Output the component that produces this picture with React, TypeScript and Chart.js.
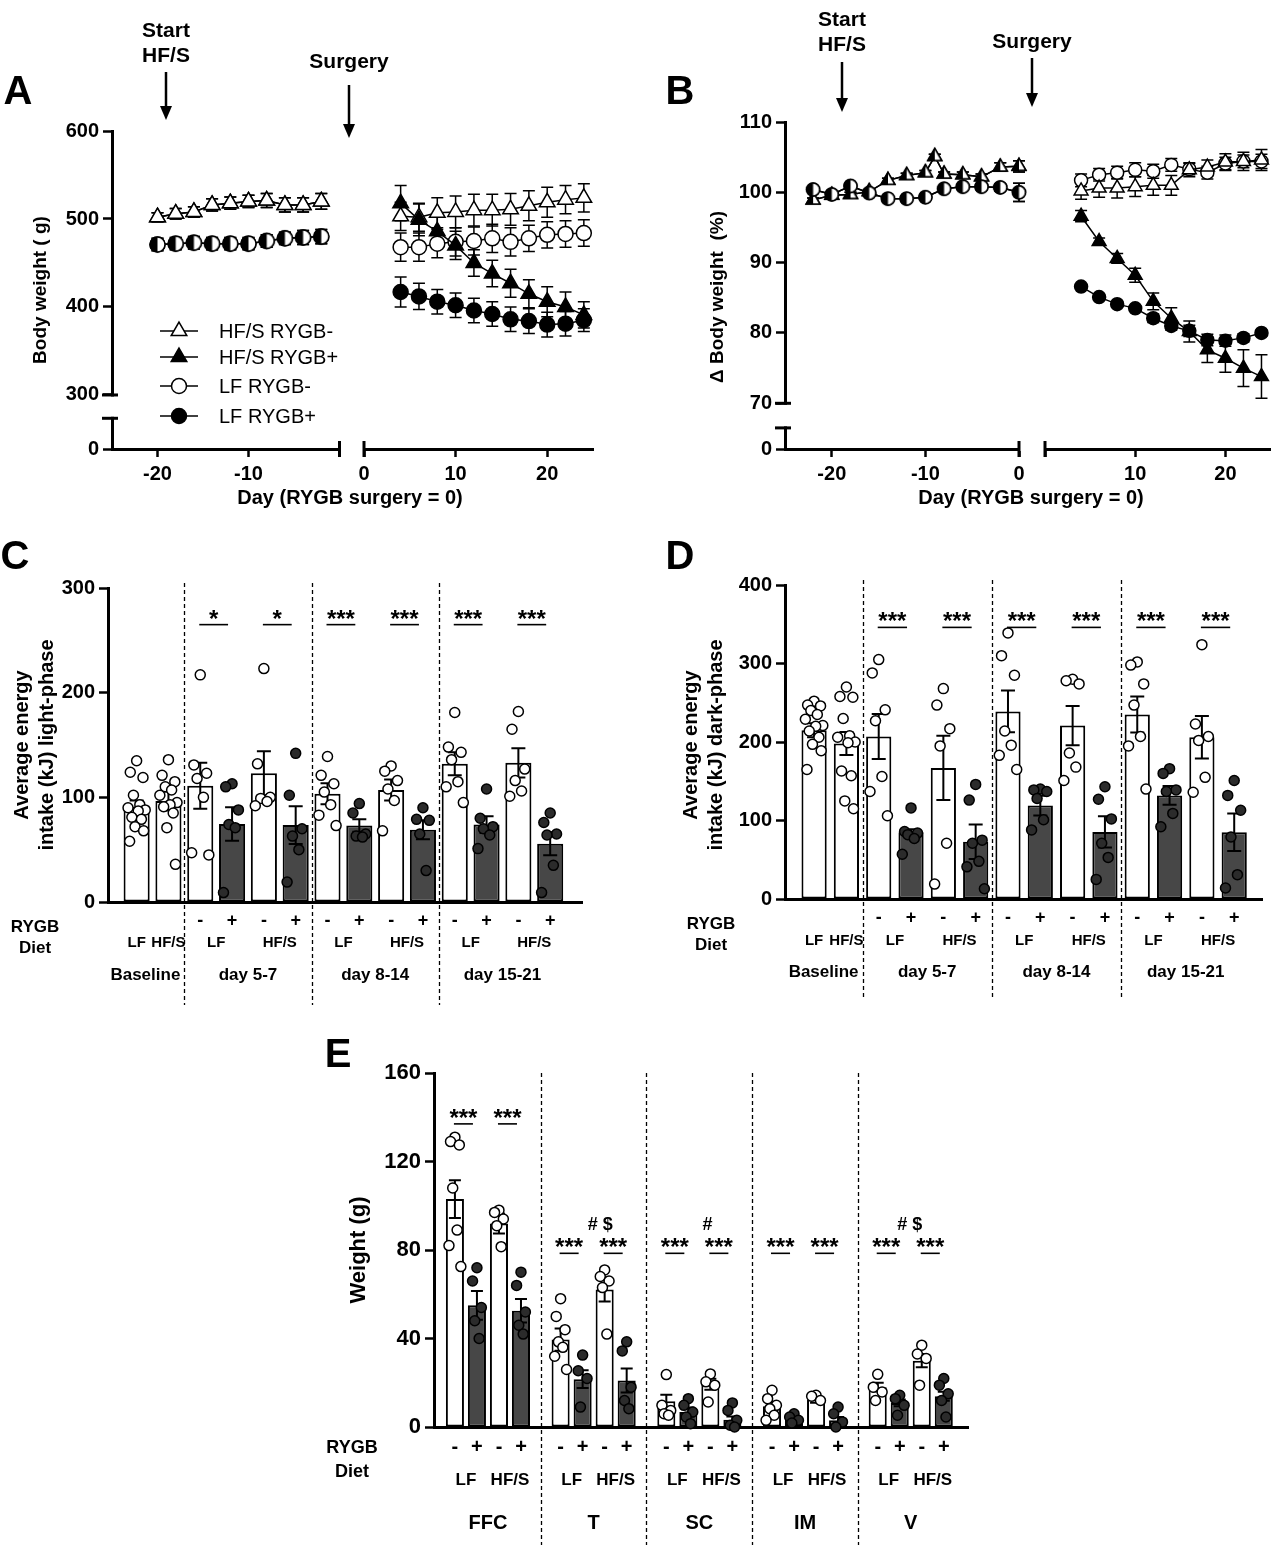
import React, { useEffect, useRef } from "react";
import { Chart, registerables } from "chart.js";

Chart.register(...registerables);

const FF = "'Liberation Sans', Arial, Helvetica, sans-serif";
const DARK_BAR = "#474747";
const DARK_DOT = "#2b2b2b";

/* ================= Panel A : body weight (g) ================= */
const aSeriesNames = ["HF/S RYGB-", "HF/S RYGB+", "LF RYGB-", "LF RYGB+"];
const aDaysPre = [-20, -18, -16, -14, -12, -10, -8, -6, -4, -2];
const aDaysPost = [4, 6, 8, 10, 12, 14, 16, 18, 20, 22, 24];
const aHfsMinusPre = [502, 506, 508, 516, 518, 520, 521, 516, 516, 520];
const aHfsMinusPreSem = [5, 6, 6, 7, 7, 7, 8, 8, 8, 9];
const aHfsPlusPre = [502, 506, 508, 516, 518, 520, 521, 516, 516, 520];
const aHfsPlusPreSem = [5, 6, 6, 7, 7, 7, 8, 8, 8, 9];
const aLfMinusPre = [471, 472, 473, 472, 472, 472, 475, 478, 479, 480];
const aLfMinusPreSem = [7, 7, 7, 7, 7, 7, 7, 7, 8, 8];
const aLfPlusPre = [471, 472, 473, 472, 472, 472, 475, 478, 479, 480];
const aLfPlusPreSem = [7, 7, 7, 7, 7, 7, 7, 7, 8, 8];
const aHfsMinusPost = [503, 502, 507, 508, 510, 510, 511, 515, 519, 522, 524];
const aHfsMinusPostSem = [16, 16, 17, 18, 18, 18, 18, 17, 17, 16, 16];
const aHfsPlusPost = [518, 499, 486, 470, 450, 438, 427, 415, 406, 400, 391];
const aHfsPlusPostSem = [20, 18, 17, 16, 15, 15, 16, 16, 17, 17, 15];
const aLfMinusPost = [468, 468, 472, 474, 475, 478, 474, 478, 482, 483, 484];
const aLfMinusPostSem = [16, 16, 16, 16, 16, 16, 16, 15, 15, 15, 15];
const aLfPlusPost = [417, 412, 406, 402, 396, 392, 386, 384, 380, 381, 385];
const aLfPlusPostSem = [17, 15, 14, 14, 14, 14, 14, 14, 14, 14, 13];
const aYTicks = [300, 400, 500, 600];
const aYAxisMin = 238.6;
const aYBreak = [273.5, 300];
const aXTicksPre = [-20, -10, 0];
const aXLabelsPre = ["-20", "-10", ""];
const aXTicksPost = [0, 10, 20];
const aXLabelsPost = ["0", "10", "20"];

/* ================= Panel B : delta body weight (%) ================= */
const bDaysPreLf = [-22, -20, -18, -16, -14, -12, -10, -8, -6, -4, -2, 0];
const bDaysPreHfs = [-22, -20, -18, -16, -14, -12, -10, -9, -8, -6, -4, -2, 0];
const bDaysPost = [4, 6, 8, 10, 12, 14, 16, 18, 20, 22, 24];
const bHfsPre = [98.9, 99.6, 99.7, 100.1, 101.7, 102.4, 102.8, 105.1, 102.6, 102.5, 102.2, 103.6, 103.7];
const bHfsPreSem = [0.3, 0.3, 0.3, 0.3, 0.3, 0.3, 0.3, 0.3, 0.3, 0.4, 0.4, 0.6, 0.8];
const bLfPre = [100.4, 99.7, 100.9, 99.9, 99.1, 99.1, 99.3, 100.5, 100.8, 100.8, 100.7, 100.0];
const bLfPreSem = [0.3, 0.3, 0.3, 0.3, 0.3, 0.3, 0.3, 0.3, 0.4, 0.4, 0.5, 1.3];
const bHfsMinusPost = [100.2, 100.6, 100.6, 100.8, 101.0, 101.0, 103.2, 103.6, 104.3, 104.4, 104.6];
const bHfsMinusPostSem = [1.2, 1.3, 1.4, 1.4, 1.4, 1.4, 1.0, 1.0, 1.2, 1.3, 1.5];
const bLfMinusPost = [101.7, 102.5, 102.8, 103.2, 103.0, 103.9, 103.3, 102.8, 104.1, 104.4, 104.4];
const bLfMinusPostSem = [0.9, 0.9, 0.9, 1.0, 1.0, 0.9, 0.8, 0.9, 0.9, 0.9, 1.0];
const bHfsPlusPost = [96.6, 93.0, 90.6, 88.2, 84.5, 82.1, 80.2, 77.6, 76.4, 75.0, 73.8];
const bHfsPlusPostSem = [0.8, 0.5, 0.7, 1.0, 1.2, 1.5, 1.5, 1.8, 2.0, 2.6, 3.1];
const bLfPlusPost = [86.6, 85.1, 84.1, 83.5, 82.1, 81.0, 80.3, 79.0, 78.9, 79.3, 80.0];
const bLfPlusPostSem = [0.3, 0.3, 0.3, 0.3, 0.6, 0.6, 0.8, 0.8, 0.8, 0.6, 0.4];
const bYTicks = [70, 80, 90, 100, 110];
const bYAxisMin = 63.5;
const bYBreak = [66.5, 70];
const bXTicksPre = [-20, -10, 0];
const bXLabelsPre = ["-20", "-10", "0"];
const bXTicksPost = [0, 10, 20];
const bXLabelsPost = ["", "10", "20"];

/* ================= Panel C : light-phase intake ================= */
const cGroups = ["Baseline", "day 5-7", "day 8-14", "day 15-21"];
const cGroupOf = [0, 0, 1, 1, 1, 1, 2, 2, 2, 2, 3, 3, 3, 3];
const cDiet = ["LF", "HF/S", "LF", "LF", "HF/S", "HF/S", "LF", "LF", "HF/S", "HF/S", "LF", "LF", "HF/S", "HF/S"];
const cRygb = ["", "", "-", "+", "-", "+", "-", "+", "-", "+", "-", "+", "-", "+"];
const cMeans = [91, 96.5, 111, 74.5, 123, 73.5, 103.5, 73, 107, 69, 132, 74, 133, 55.7];
const cSem = [6, 9, 22, 16, 21, 18, 10, 6, 10, 9, 11, 8, 14, 11];
const cPoints = [
  [135, 124, 119, 102, 93, 90, 88, 87, 81, 79, 72, 68, 58],
  [136, 121, 115, 110, 107, 102, 95, 93, 91, 85, 71, 36],
  [217, 131, 123, 118, 100, 47, 45],
  [113, 110, 88, 74, 71, 9],
  [223, 132, 100, 99, 96, 92],
  [142, 102, 70, 63, 50, 19],
  [139, 121, 113, 105, 93, 83, 73],
  [94, 85, 65, 63, 62],
  [130, 125, 116, 108, 97, 68],
  [90, 79, 78, 65, 30],
  [181, 148, 143, 136, 115, 110, 95],
  [108, 80, 72, 70, 64, 51],
  [182, 165, 127, 116, 106, 101],
  [85, 76, 65, 64, 35, 9],
];
const cYTicks = [0, 100, 200, 300];
const cSigText = ["*", "*", "***", "***", "***", "***"];
const cSigY = 265;

/* ================= Panel D : dark-phase intake ================= */
const dGroups = ["Baseline", "day 5-7", "day 8-14", "day 15-21"];
const dGroupOf = [0, 0, 1, 1, 1, 1, 2, 2, 2, 2, 3, 3, 3, 3];
const dDiet = ["LF", "HF/S", "LF", "LF", "HF/S", "HF/S", "LF", "LF", "HF/S", "HF/S", "LF", "LF", "HF/S", "HF/S"];
const dRygb = ["", "", "-", "+", "-", "+", "-", "+", "-", "+", "-", "+", "-", "+"];
const dMeans = [215, 198, 207, 85, 167, 73, 239, 119, 221, 85.5, 235, 132, 206, 85];
const dSem = [9, 14.7, 28.6, 4, 41, 22, 26.7, 12.6, 25, 20, 23, 12, 27, 24];
const dPoints = [
  [252, 247, 246, 240, 235, 229, 221, 220, 214, 206, 197, 189, 165],
  [270, 258, 257, 230, 208, 206, 200, 199, 163, 157, 125, 115],
  [305, 288, 241, 227, 156, 137, 106],
  [116, 86, 84, 82, 77, 57],
  [268, 247, 217, 195, 71, 19],
  [146, 126, 75, 71, 48, 41, 13],
  [339, 310, 285, 214, 196, 183, 165],
  [140, 139, 137, 128, 101, 88],
  [280, 278, 274, 186, 168, 151],
  [143, 127, 102, 71, 53, 25],
  [302, 298, 274, 247, 207, 195, 140],
  [166, 160, 139, 137, 109, 92],
  [324, 223, 207, 202, 155, 136],
  [151, 132, 113, 79, 31, 14],
];
const dYTicks = [0, 100, 200, 300, 400];
const dSigText = ["***", "***", "***", "***", "***", "***"];
const dSigY = 346;

/* ================= Panel E : tissue weights ================= */
const eGroups = ["FFC", "T", "SC", "IM", "V"];
const eGroupOf = [0, 0, 0, 0, 1, 1, 1, 1, 2, 2, 2, 2, 3, 3, 3, 3, 4, 4, 4, 4];
const eDiet = ["LF", "LF", "HF/S", "HF/S", "LF", "LF", "HF/S", "HF/S", "LF", "LF", "HF/S", "HF/S", "LF", "LF", "HF/S", "HF/S", "LF", "LF", "HF/S", "HF/S"];
const eRygb = ["-", "+", "-", "+", "-", "+", "-", "+", "-", "+", "-", "+", "-", "+", "-", "+", "-", "+", "-", "+"];
const eMeans = [103, 55, 92, 52.5, 39.5, 21.6, 62.2, 21, 11.6, 6.8, 19.3, 3.3, 9.4, 3.3, 12.5, 3, 18, 10.9, 30, 13.9];
const eSem = [8.5, 6.5, 4.5, 5.3, 5, 4, 5.5, 5.4, 3, 2, 2.5, 1.5, 2, 0.8, 1.5, 1.5, 2, 1.5, 3, 2];
const ePoints = [
  [131, 129, 127.5, 108, 89, 82, 72.5],
  [72, 66, 54, 48, 40],
  [98, 97, 94, 91, 81.5],
  [70, 64, 52, 46, 42],
  [58, 50, 44, 38.5, 36, 32, 26],
  [32.5, 25.4, 21.9, 9],
  [71, 68, 66, 63, 42],
  [38.5, 34.4, 18, 12, 8.3],
  [23.7, 9.8, 7.5, 6, 5.3],
  [12.8, 9.8, 6.8, 4.5, 1.5],
  [24, 20.4, 18.9, 11.3],
  [10.9, 7.5, 3, 0.8, 0],
  [16.6, 12.8, 9.8, 8.3, 5.3, 3],
  [6, 4.5, 3, 1.8],
  [14.3, 13.9, 12],
  [9, 6, 2.3, 0],
  [23.8, 18, 15.8, 12],
  [14.3, 12.8, 9.8, 5.3],
  [37, 33, 31, 18.9],
  [21.9, 18.9, 15, 12, 4.5],
];
const eYTicks = [0, 40, 80, 120, 160];
const eSigY = [137, 78.5, 78.5, 78.5, 78.5];
const eMarkGroups = [1, 2, 4];
const eMarkText = ["# $", "#", "# $"];
const eMarkAt = [1.8, 1.87, 1.45];
const eMarkY = 91.5;

const sideLabels = ["RYGB", "Diet"];

/* ================= layout (positions / styles only) ================= */
type Box = { left: number; top: number; width: number; height: number };
type Area = { l: number; t: number; r: number; b: number };

const A_PRE = { box: { left: 40, top: 105, width: 310, height: 390 }, area: { l: 112, t: 131, r: 340, b: 449 } };
const A_POST = { box: { left: 350, top: 105, width: 262, height: 390 }, area: { l: 364, t: 131, r: 593, b: 449 } };
const B_PRE = { box: { left: 728, top: 100, width: 302, height: 395 }, area: { l: 785, t: 122, r: 1019, b: 449 } };
const B_POST = { box: { left: 1030, top: 100, width: 250, height: 395 }, area: { l: 1045, t: 122, r: 1275, b: 449 } };
const C_L = { box: { left: 0, top: 565, width: 600, height: 445 }, area: { l: 108, t: 588, r: 582, b: 902 } };
const D_L = { box: { left: 660, top: 562, width: 620, height: 448 }, area: { l: 785, t: 585, r: 1262, b: 899 } };
const E_L = { box: { left: 320, top: 1050, width: 680, height: 499 }, area: { l: 434, t: 1073, r: 968, b: 1427 } };
const E_GROUP_STEP = 4.8;
const JITTER = [0, -0.2, 0.2, -0.1, 0.1, -0.27, 0.27, 0.05, -0.15, 0.15, -0.05, 0.22, -0.22];

function layoutFor(box: Box, area: Area) {
  return {
    yWidth: area.l - box.left,
    xHeight: box.top + box.height - area.b,
    padding: {
      top: area.t - box.top,
      right: box.left + box.width - area.r,
      left: 0,
      bottom: 0,
    },
  };
}

function markerPath(ctx: CanvasRenderingContext2D, shape: string, x: number, y: number, r: number) {
  ctx.beginPath();
  if (shape === "circle") {
    ctx.arc(x, y, r, 0, Math.PI * 2);
  } else {
    let rad = 0;
    ctx.moveTo(x + Math.sin(rad) * r, y - Math.cos(rad) * r);
    rad += (2 * Math.PI) / 3;
    ctx.lineTo(x + Math.sin(rad) * r, y - Math.cos(rad) * r);
    rad += (2 * Math.PI) / 3;
    ctx.lineTo(x + Math.sin(rad) * r, y - Math.cos(rad) * r);
  }
  ctx.closePath();
}

function halfOverlay(shape: string, r: number): HTMLCanvasElement {
  const s = Math.ceil(2 * r + 6);
  const c = document.createElement("canvas");
  c.width = s;
  c.height = s;
  const ctx = c.getContext("2d") as CanvasRenderingContext2D;
  const cx = s / 2;
  const cy = s / 2;
  ctx.save();
  markerPath(ctx, shape, cx, cy, r);
  ctx.clip();
  ctx.fillStyle = "#fff";
  ctx.fillRect(cx, 0, s, s);
  ctx.restore();
  markerPath(ctx, shape, cx, cy, r);
  ctx.lineWidth = 1.5;
  ctx.strokeStyle = "#000";
  ctx.stroke();
  return c;
}

const tickFont = (size: number) => ({ family: FF, size, weight: "bold" as const });
const axisBorder = { display: true, color: "#000", width: 3 };

/* ------------ plugins ------------ */
const lineErrorPlugin = (capHalf: number) => ({
  id: "lineErrors",
  beforeDatasetsDraw(chart: any) {
    const ctx = chart.ctx;
    const ys = chart.scales.y;
    ctx.save();
    ctx.strokeStyle = "#000";
    ctx.lineWidth = 1.5;
    chart.data.datasets.forEach((ds: any, di: number) => {
      if (!ds.errors) return;
      const meta = chart.getDatasetMeta(di);
      meta.data.forEach((pt: any, i: number) => {
        const v = ds.data[i].y;
        const e = ds.errors[i];
        if (!e) return;
        const y1 = ys.getPixelForValue(v + e);
        const y2 = ys.getPixelForValue(v - e);
        ctx.beginPath();
        ctx.moveTo(pt.x, y1);
        ctx.lineTo(pt.x, y2);
        ctx.moveTo(pt.x - capHalf, y1);
        ctx.lineTo(pt.x + capHalf, y1);
        ctx.moveTo(pt.x - capHalf, y2);
        ctx.lineTo(pt.x + capHalf, y2);
        ctx.stroke();
      });
    });
    ctx.restore();
  },
});

const brokenAxisPlugin = (yBreak: number[] | null, caps: number[]) => ({
  id: "brokenAxis",
  afterDraw(chart: any) {
    const ctx = chart.ctx;
    const ca = chart.chartArea;
    ctx.save();
    ctx.strokeStyle = "#000";
    ctx.lineWidth = 3;
    if (yBreak) {
      const ys = chart.scales.y;
      const pTop = ys.getPixelForValue(yBreak[1]);
      const pBot = ys.getPixelForValue(yBreak[0]);
      ctx.fillStyle = "#fff";
      ctx.fillRect(ca.left - 4, pTop + 1.5, 8, pBot - pTop - 3);
      [pTop, pBot].forEach((p) => {
        ctx.beginPath();
        ctx.moveTo(ca.left - 10, p);
        ctx.lineTo(ca.left + 6, p);
        ctx.stroke();
      });
    }
    caps.forEach((v) => {
      const px = chart.scales.x.getPixelForValue(v);
      ctx.beginPath();
      ctx.moveTo(px, ca.bottom - 8);
      ctx.lineTo(px, ca.bottom + 8);
      ctx.stroke();
    });
    ctx.restore();
  },
});

const legendPlugin = (lg: any) => ({
  id: "customLegend",
  afterDraw(chart: any) {
    const ctx = chart.ctx;
    ctx.save();
    lg.rows.forEach((row: any) => {
      ctx.strokeStyle = "#000";
      ctx.lineWidth = 1.5;
      ctx.beginPath();
      ctx.moveTo(lg.x1, row.y);
      ctx.lineTo(lg.x2, row.y);
      ctx.stroke();
      markerPath(ctx, row.shape, (lg.x1 + lg.x2) / 2, row.y, row.r);
      ctx.fillStyle = row.filled ? "#000" : "#fff";
      ctx.fill();
      ctx.stroke();
      ctx.fillStyle = "#000";
      ctx.font = `20px ${FF}`;
      ctx.textAlign = "left";
      ctx.textBaseline = "middle";
      ctx.fillText(row.name, lg.tx, row.y + 1);
    });
    ctx.restore();
  },
});

type LSeries = { xs: number[]; ys: number[]; err: number[]; shape: string; fill: string; r: number; order: number };

function segmentConfig(p: any) {
  const lay = layoutFor(p.box, p.area);
  const datasets = p.series.map((s: LSeries) => ({
    type: "line",
    data: s.xs.map((x, i) => ({ x, y: s.ys[i] })),
    errors: s.err,
    borderColor: "#000",
    borderWidth: 1.5,
    pointStyle: s.fill === "half" ? halfOverlay(s.shape, s.r) : s.shape,
    pointRadius: s.r,
    pointBackgroundColor: s.fill === "filled" ? "#000" : "#fff",
    pointBorderColor: "#000",
    pointBorderWidth: 1.5,
    fill: false,
    tension: 0,
    order: s.order,
    clip: false,
  }));
  const plugins: any[] = [lineErrorPlugin(p.capHalf), brokenAxisPlugin(p.showY ? p.yBreak : null, p.caps)];
  if (p.legend) plugins.push(legendPlugin(p.legend));
  return {
    type: "line",
    data: { datasets },
    plugins,
    options: {
      animation: false,
      responsive: false,
      events: [],
      layout: { padding: lay.padding },
      plugins: { legend: { display: false }, tooltip: { enabled: false } },
      scales: {
        x: {
          type: "linear",
          min: p.xMin,
          max: p.xMax,
          offset: false,
          afterBuildTicks: (s: any) => {
            s.ticks = p.xTicks.map((v: number) => ({ value: v }));
          },
          afterFit: (s: any) => {
            s.height = lay.xHeight;
          },
          ticks: {
            color: "#000",
            font: tickFont(20),
            padding: 5,
            maxRotation: 0,
            autoSkip: false,
            callback: (v: number) => {
              const k = p.xTicks.indexOf(v);
              return k >= 0 ? p.xLabels[k] : "";
            },
          },
          grid: { display: true, drawOnChartArea: false, drawTicks: true, tickLength: 8, tickColor: "#000", tickWidth: 2.5, color: "#000" },
          border: axisBorder,
        },
        y: {
          type: "linear",
          display: p.showY,
          min: p.yMin,
          max: p.yMax,
          afterBuildTicks: (s: any) => {
            s.ticks = [p.yMin, ...p.yTicks].map((v: number) => ({ value: v }));
          },
          afterFit: (s: any) => {
            s.width = lay.yWidth;
          },
          ticks: {
            color: "#000",
            font: tickFont(20),
            padding: 4,
            autoSkip: false,
            callback: (v: number) => (v === p.yMin ? p.yMinLabel : String(v)),
          },
          grid: { display: true, drawOnChartArea: false, drawTicks: true, tickLength: 9, tickColor: "#000", tickWidth: 2.5, color: "#000" },
          border: axisBorder,
        },
      },
    },
  };
}

/* ------- bar chart plugins ------- */
const barErrorPlugin = (capHalf: number) => ({
  id: "barErrors",
  afterDatasetDraw(chart: any, args: any) {
    const ds = chart.data.datasets[args.index];
    if (!ds.errors) return;
    const ctx = chart.ctx;
    const ys = chart.scales.y;
    ctx.save();
    ctx.strokeStyle = "#000";
    ctx.lineWidth = 2;
    args.meta.data.forEach((bar: any, i: number) => {
      const v = ds.data[i].y;
      const e = ds.errors[i];
      const y1 = ys.getPixelForValue(v + e);
      const y2 = ys.getPixelForValue(Math.max(0, v - e));
      ctx.beginPath();
      ctx.moveTo(bar.x, y1);
      ctx.lineTo(bar.x, y2);
      ctx.moveTo(bar.x - capHalf, y1);
      ctx.lineTo(bar.x + capHalf, y1);
      ctx.moveTo(bar.x - capHalf, y2);
      ctx.lineTo(bar.x + capHalf, y2);
      ctx.stroke();
    });
    ctx.restore();
  },
});

const dividerPlugin = (p: any) => ({
  id: "dividers",
  beforeDatasetsDraw(chart: any) {
    const ctx = chart.ctx;
    const xs = chart.scales.x;
    ctx.save();
    ctx.strokeStyle = "#000";
    ctx.lineWidth = 1.3;
    ctx.setLineDash([4, 3]);
    p.dividers.forEach((v: number) => {
      const px = Math.round(xs.getPixelForValue(v)) + 0.5;
      ctx.beginPath();
      ctx.moveTo(px, p.divTop - p.box.top);
      ctx.lineTo(px, p.divBottom - p.box.top);
      ctx.stroke();
    });
    ctx.restore();
  },
});

const sigPlugin = (p: any) => ({
  id: "significance",
  afterDraw(chart: any) {
    const ctx = chart.ctx;
    const xs = chart.scales.x;
    const ys = chart.scales.y;
    ctx.save();
    ctx.strokeStyle = "#000";
    ctx.fillStyle = "#000";
    ctx.lineWidth = 1.6;
    ctx.textAlign = "center";
    p.sigs.forEach((s: any) => {
      const x1 = xs.getPixelForValue(s.x1) - 1;
      const x2 = xs.getPixelForValue(s.x2) - 4;
      const y = ys.getPixelForValue(s.y);
      ctx.beginPath();
      ctx.moveTo(x1, y);
      ctx.lineTo(x2, y);
      ctx.stroke();
      ctx.font = `bold 24px ${FF}`;
      ctx.textBaseline = "alphabetic";
      ctx.fillText(s.text, (x1 + x2) / 2, y + 2);
    });
    p.marks.forEach((m: any) => {
      ctx.font = `bold 18px ${FF}`;
      ctx.textBaseline = "middle";
      ctx.fillText(m.text, xs.getPixelForValue(m.x), ys.getPixelForValue(m.y));
    });
    ctx.restore();
  },
});

const bottomLabelsPlugin = (p: any) => ({
  id: "bottomLabels",
  afterDraw(chart: any) {
    const ctx = chart.ctx;
    const xs = chart.scales.x;
    const ca = chart.chartArea;
    const oy = p.box.top;
    const ox = p.box.left;
    const R = p.rows;
    ctx.save();
    ctx.fillStyle = "#000";
    ctx.textAlign = "center";
    ctx.textBaseline = "middle";
    ctx.font = `bold ${R.signSize}px ${FF}`;
    p.pos.forEach((v: number, i: number) => {
      if (p.rygb[i]) ctx.fillText(p.rygb[i], xs.getPixelForValue(v), R.sign - oy);
    });
    ctx.font = `bold ${R.dietSize}px ${FF}`;
    let start = 0;
    for (let i = 1; i <= p.pos.length; i++) {
      if (i === p.pos.length || p.diet[i] !== p.diet[start] || p.groupOf[i] !== p.groupOf[start]) {
        const cx = (xs.getPixelForValue(p.pos[start]) + xs.getPixelForValue(p.pos[i - 1])) / 2;
        ctx.fillText(p.diet[start], cx, R.diet - oy);
        start = i;
      }
    }
    ctx.font = `bold ${R.groupSize}px ${FF}`;
    const divPx = p.dividers.map((v: number) => xs.getPixelForValue(v));
    p.groupNames.forEach((name: string, g: number) => {
      const idx = p.groupOf.map((gg: number, i: number) => (gg === g ? i : -1)).filter((i: number) => i >= 0);
      let cx = (xs.getPixelForValue(p.pos[idx[0]]) + xs.getPixelForValue(p.pos[idx[idx.length - 1]])) / 2;
      const w = ctx.measureText(name).width;
      const leftB = g === 0 ? ca.left : divPx[g - 1];
      const rightB = g < divPx.length ? divPx[g] : ca.right;
      if (cx + w / 2 > rightB - 4) cx = rightB - 4 - w / 2;
      if (cx - w / 2 < leftB + 2) cx = leftB + 2 + w / 2;
      ctx.fillText(name, cx, R.group - oy);
    });
    ctx.font = `bold ${R.sideSize}px ${FF}`;
    ctx.fillText(sideLabels[0], R.sideX - ox, R.rygbY - oy);
    ctx.fillText(sideLabels[1], R.sideX - ox, R.dietY - oy);
    ctx.restore();
  },
});

function barConfig(p: any) {
  const lay = layoutFor(p.box, p.area);
  const open: any[] = [];
  const filled: any[] = [];
  p.points.forEach((vals: number[], i: number) =>
    vals.forEach((v, j) => {
      const pt = { x: p.pos[i] + JITTER[j % JITTER.length], y: v };
      (p.rygb[i] === "+" ? filled : open).push(pt);
    })
  );
  const scatterCommon = { type: "scatter", pointRadius: p.pointR, pointBorderColor: "#000", pointBorderWidth: 1.5, showLine: false, clip: false };
  return {
    type: "bar",
    data: {
      datasets: [
        { ...scatterCommon, data: open, pointBackgroundColor: "#fff", order: 1 },
        { ...scatterCommon, data: filled, pointBackgroundColor: DARK_DOT, order: 0 },
        {
          type: "bar",
          data: p.means.map((m: number, i: number) => ({ x: p.pos[i], y: m })),
          errors: p.sems,
          backgroundColor: p.rygb.map((r: string) => (r === "+" ? DARK_BAR : "#fff")),
          borderColor: "#000",
          borderWidth: 2,
          borderSkipped: false,
          barPercentage: p.barPct,
          categoryPercentage: 1,
          order: 2,
        },
      ],
    },
    plugins: [dividerPlugin(p), barErrorPlugin(p.capHalf), sigPlugin(p), bottomLabelsPlugin(p)],
    options: {
      animation: false,
      responsive: false,
      events: [],
      layout: { padding: lay.padding },
      plugins: { legend: { display: false }, tooltip: { enabled: false } },
      scales: {
        x: {
          type: "linear",
          min: p.xMin,
          max: p.xMax,
          offset: false,
          afterBuildTicks: (s: any) => {
            s.ticks = p.pos.map((v: number) => ({ value: v }));
          },
          afterFit: (s: any) => {
            s.height = lay.xHeight;
          },
          ticks: { display: false },
          grid: { display: false, offset: false },
          border: axisBorder,
        },
        y: {
          type: "linear",
          min: 0,
          max: p.yMax,
          afterBuildTicks: (s: any) => {
            s.ticks = p.yTicks.map((v: number) => ({ value: v }));
          },
          afterFit: (s: any) => {
            s.width = lay.yWidth;
          },
          ticks: { color: "#000", font: tickFont(p.tickSize), padding: 4, autoSkip: false },
          grid: { display: true, drawOnChartArea: false, drawTicks: true, tickLength: 9, tickColor: "#000", tickWidth: 2.5, color: "#000" },
          border: axisBorder,
        },
      },
    },
  };
}

/* ------------- chart builders ------------- */
const makeAPre = () =>
  segmentConfig({
    ...A_PRE,
    showY: true,
    capHalf: 6,
    series: [
      { xs: aDaysPre, ys: aHfsMinusPre, err: aHfsMinusPreSem, shape: "triangle", fill: "open", r: 9, order: 0 },
      { xs: aDaysPre, ys: aHfsPlusPre, err: aHfsPlusPreSem, shape: "triangle", fill: "filled", r: 9, order: 1 },
      { xs: aDaysPre, ys: aLfMinusPre, err: aLfMinusPreSem, shape: "circle", fill: "half", r: 7.5, order: 2 },
      { xs: aDaysPre, ys: aLfPlusPre, err: aLfPlusPreSem, shape: "circle", fill: "filled", r: 7.5, order: 3 },
    ],
    xMin: -25,
    xMax: 0,
    xTicks: aXTicksPre,
    xLabels: aXLabelsPre,
    yMin: aYAxisMin,
    yMax: 600,
    yTicks: aYTicks,
    yMinLabel: "0",
    yBreak: aYBreak,
    caps: [0],
    legend: {
      x1: 160 - A_PRE.box.left,
      x2: 198 - A_PRE.box.left,
      tx: 219 - A_PRE.box.left,
      rows: [
        { name: aSeriesNames[0], shape: "triangle", filled: false, r: 9, y: 331 - A_PRE.box.top },
        { name: aSeriesNames[1], shape: "triangle", filled: true, r: 9, y: 357 - A_PRE.box.top },
        { name: aSeriesNames[2], shape: "circle", filled: false, r: 7.5, y: 386 - A_PRE.box.top },
        { name: aSeriesNames[3], shape: "circle", filled: true, r: 7.5, y: 416 - A_PRE.box.top },
      ],
    },
  });

const makeAPost = () =>
  segmentConfig({
    ...A_POST,
    showY: false,
    capHalf: 6,
    series: [
      { xs: aDaysPost, ys: aHfsPlusPost, err: aHfsPlusPostSem, shape: "triangle", fill: "filled", r: 9, order: 0 },
      { xs: aDaysPost, ys: aLfPlusPost, err: aLfPlusPostSem, shape: "circle", fill: "filled", r: 7.5, order: 1 },
      { xs: aDaysPost, ys: aHfsMinusPost, err: aHfsMinusPostSem, shape: "triangle", fill: "open", r: 9, order: 2 },
      { xs: aDaysPost, ys: aLfMinusPost, err: aLfMinusPostSem, shape: "circle", fill: "open", r: 7.5, order: 3 },
    ],
    xMin: 0,
    xMax: 25,
    xTicks: aXTicksPost,
    xLabels: aXLabelsPost,
    yMin: aYAxisMin,
    yMax: 600,
    yTicks: aYTicks,
    yMinLabel: "0",
    yBreak: aYBreak,
    caps: [0],
  });

const makeBPre = () =>
  segmentConfig({
    ...B_PRE,
    showY: true,
    capHalf: 6,
    series: [
      { xs: bDaysPreLf, ys: bLfPre, err: bLfPreSem, shape: "circle", fill: "half", r: 6.5, order: 0 },
      { xs: bDaysPreLf, ys: bLfPre, err: bLfPreSem, shape: "circle", fill: "filled", r: 6.5, order: 1 },
      { xs: bDaysPreHfs, ys: bHfsPre, err: bHfsPreSem, shape: "triangle", fill: "half", r: 8, order: 2 },
      { xs: bDaysPreHfs, ys: bHfsPre, err: bHfsPreSem, shape: "triangle", fill: "filled", r: 8, order: 3 },
    ],
    xMin: -25,
    xMax: 0,
    xTicks: bXTicksPre,
    xLabels: bXLabelsPre,
    yMin: bYAxisMin,
    yMax: 110,
    yTicks: bYTicks,
    yMinLabel: "0",
    yBreak: bYBreak,
    caps: [0],
  });

const makeBPost = () =>
  segmentConfig({
    ...B_POST,
    showY: false,
    capHalf: 6,
    series: [
      { xs: bDaysPost, ys: bHfsPlusPost, err: bHfsPlusPostSem, shape: "triangle", fill: "filled", r: 8, order: 0 },
      { xs: bDaysPost, ys: bLfPlusPost, err: bLfPlusPostSem, shape: "circle", fill: "filled", r: 6.5, order: 1 },
      { xs: bDaysPost, ys: bHfsMinusPost, err: bHfsMinusPostSem, shape: "triangle", fill: "open", r: 8, order: 2 },
      { xs: bDaysPost, ys: bLfMinusPost, err: bLfMinusPostSem, shape: "circle", fill: "open", r: 6.5, order: 3 },
    ],
    xMin: 0,
    xMax: 25,
    xTicks: bXTicksPost,
    xLabels: bXLabelsPost,
    yMin: bYAxisMin,
    yMax: 110,
    yTicks: bYTicks,
    yMinLabel: "0",
    yBreak: bYBreak,
    caps: [0],
  });

function pairSigs(pos: number[], rygb: string[], texts: string[], yFor: (i: number) => number) {
  const out: any[] = [];
  let k = 0;
  for (let i = 0; i < pos.length - 1; i++) {
    if (rygb[i] === "-" && rygb[i + 1] === "+") {
      out.push({ x1: pos[i], x2: pos[i + 1], y: yFor(i), text: texts[k] });
      k++;
    }
  }
  return out;
}

const cPos = cMeans.map((_, i) => i);
const dPos = dMeans.map((_, i) => i);
const ePos = eGroupOf.map((g, i) => g * E_GROUP_STEP + (i % 4));

const makeC = () =>
  barConfig({
    ...C_L,
    pos: cPos,
    means: cMeans,
    sems: cSem,
    points: cPoints,
    rygb: cRygb,
    diet: cDiet,
    groupOf: cGroupOf,
    groupNames: cGroups,
    xMin: -0.9,
    xMax: 14,
    yMax: 300,
    yTicks: cYTicks,
    tickSize: 20,
    barPct: 0.82,
    pointR: 5,
    capHalf: 7,
    dividers: [1.5, 5.5, 9.5],
    divTop: 583,
    divBottom: 1005,
    sigs: pairSigs(cPos, cRygb, cSigText, () => cSigY),
    marks: [],
    rows: { sign: 921, diet: 943, group: 975, sideX: 35, rygbY: 927, dietY: 948, signSize: 18, dietSize: 15, groupSize: 17, sideSize: 17 },
  });

const makeD = () =>
  barConfig({
    ...D_L,
    pos: dPos,
    means: dMeans,
    sems: dSem,
    points: dPoints,
    rygb: dRygb,
    diet: dDiet,
    groupOf: dGroupOf,
    groupNames: dGroups,
    xMin: -0.9,
    xMax: 13.86,
    yMax: 400,
    yTicks: dYTicks,
    tickSize: 20,
    barPct: 0.78,
    pointR: 5,
    capHalf: 7,
    dividers: [1.5, 5.5, 9.5],
    divTop: 580,
    divBottom: 1000,
    sigs: pairSigs(dPos, dRygb, dSigText, () => dSigY),
    marks: [],
    rows: { sign: 918, diet: 941, group: 972, sideX: 711, rygbY: 924, dietY: 945, signSize: 18, dietSize: 15, groupSize: 17, sideSize: 17 },
  });

const makeE = () =>
  barConfig({
    ...E_L,
    pos: ePos,
    means: eMeans,
    sems: eSem,
    points: ePoints,
    rygb: eRygb,
    diet: eDiet,
    groupOf: eGroupOf,
    groupNames: eGroups,
    xMin: -0.95,
    xMax: 23.3,
    yMax: 160,
    yTicks: eYTicks,
    tickSize: 22,
    barPct: 0.82,
    pointR: 5,
    capHalf: 6,
    dividers: [0, 1, 2, 3].map((g) => g * E_GROUP_STEP + 3.9),
    divTop: 1073,
    divBottom: 1545,
    sigs: pairSigs(ePos, eRygb, eRygb.map(() => "***"), (i) => eSigY[eGroupOf[i]]),
    marks: eMarkGroups.map((g, k) => ({ x: g * E_GROUP_STEP + eMarkAt[k], y: eMarkY, text: eMarkText[k] })),
    rows: { sign: 1447, diet: 1480, group: 1523, sideX: 352, rygbY: 1448, dietY: 1472, signSize: 20, dietSize: 17, groupSize: 20, sideSize: 18 },
  });

/* ------------- React components ------------- */
function ChartCanvas({ box, make }: { box: Box; make: () => any }) {
  const ref = useRef<HTMLCanvasElement | null>(null);
  useEffect(() => {
    if (!ref.current) return;
    const chart = new Chart(ref.current, make());
    return () => chart.destroy();
  }, []);
  return (
    <canvas
      ref={ref}
      width={box.width}
      height={box.height}
      style={{ position: "absolute", left: box.left, top: box.top, width: box.width, height: box.height }}
    />
  );
}

function Txt({ x, y, size = 20, weight = 700, rotate = false, lh, children }: any) {
  return (
    <div
      style={{
        position: "absolute",
        left: x,
        top: y,
        transform: `translate(-50%, -50%)${rotate ? " rotate(-90deg)" : ""}`,
        fontFamily: FF,
        fontSize: size,
        fontWeight: weight,
        whiteSpace: "pre",
        lineHeight: lh ? `${lh}px` : 1.15,
        textAlign: "center",
        color: "#000",
      }}
    >
      {children}
    </div>
  );
}

function Arrow({ x, y1, y2 }: { x: number; y1: number; y2: number }) {
  return (
    <g>
      <line x1={x} y1={y1} x2={x} y2={y2 - 10} stroke="#000" strokeWidth={2.5} />
      <polygon points={`${x - 6},${y2 - 14} ${x + 6},${y2 - 14} ${x},${y2}`} fill="#000" />
    </g>
  );
}

export default function App() {
  return (
    <div style={{ position: "absolute", left: 0, top: 0, width: 1280, height: 1549, background: "#fff", overflow: "hidden" }}>
      <ChartCanvas box={A_PRE.box} make={makeAPre} />
      <ChartCanvas box={A_POST.box} make={makeAPost} />
      <ChartCanvas box={B_PRE.box} make={makeBPre} />
      <ChartCanvas box={B_POST.box} make={makeBPost} />
      <ChartCanvas box={C_L.box} make={makeC} />
      <ChartCanvas box={D_L.box} make={makeD} />
      <ChartCanvas box={E_L.box} make={makeE} />

      <svg width={1280} height={1549} style={{ position: "absolute", left: 0, top: 0, pointerEvents: "none" }}>
        <Arrow x={166} y1={72} y2={120} />
        <Arrow x={349} y1={85} y2={138} />
        <Arrow x={842} y1={62} y2={112} />
        <Arrow x={1032} y1={58} y2={107} />
      </svg>

      <Txt x={18} y={90} size={40}>A</Txt>
      <Txt x={680} y={90} size={40}>B</Txt>
      <Txt x={15} y={555} size={40}>C</Txt>
      <Txt x={680} y={555} size={40}>D</Txt>
      <Txt x={338} y={1053} size={40}>E</Txt>

      <Txt x={166} y={42} size={21} lh={25}>{"Start\nHF/S"}</Txt>
      <Txt x={349} y={61} size={21}>Surgery</Txt>
      <Txt x={842} y={31} size={21} lh={25}>{"Start\nHF/S"}</Txt>
      <Txt x={1032} y={41} size={21}>Surgery</Txt>

      <Txt x={40} y={290} size={19} rotate>{"Body weight ( g)"}</Txt>
      <Txt x={717} y={297} size={19} rotate>{"\u0394 Body weight  (%)"}</Txt>
      <Txt x={350} y={497} size={20}>{"Day (RYGB surgery = 0)"}</Txt>
      <Txt x={1031} y={497} size={20}>{"Day (RYGB surgery = 0)"}</Txt>

      <Txt x={34} y={745} size={20} lh={25} rotate>{"Average energy\nintake (kJ) light-phase"}</Txt>
      <Txt x={703} y={745} size={20} lh={25} rotate>{"Average energy\nintake (kJ) dark-phase"}</Txt>
      <Txt x={358} y={1250} size={22} rotate>{"Weight (g)"}</Txt>
    </div>
  );
}
